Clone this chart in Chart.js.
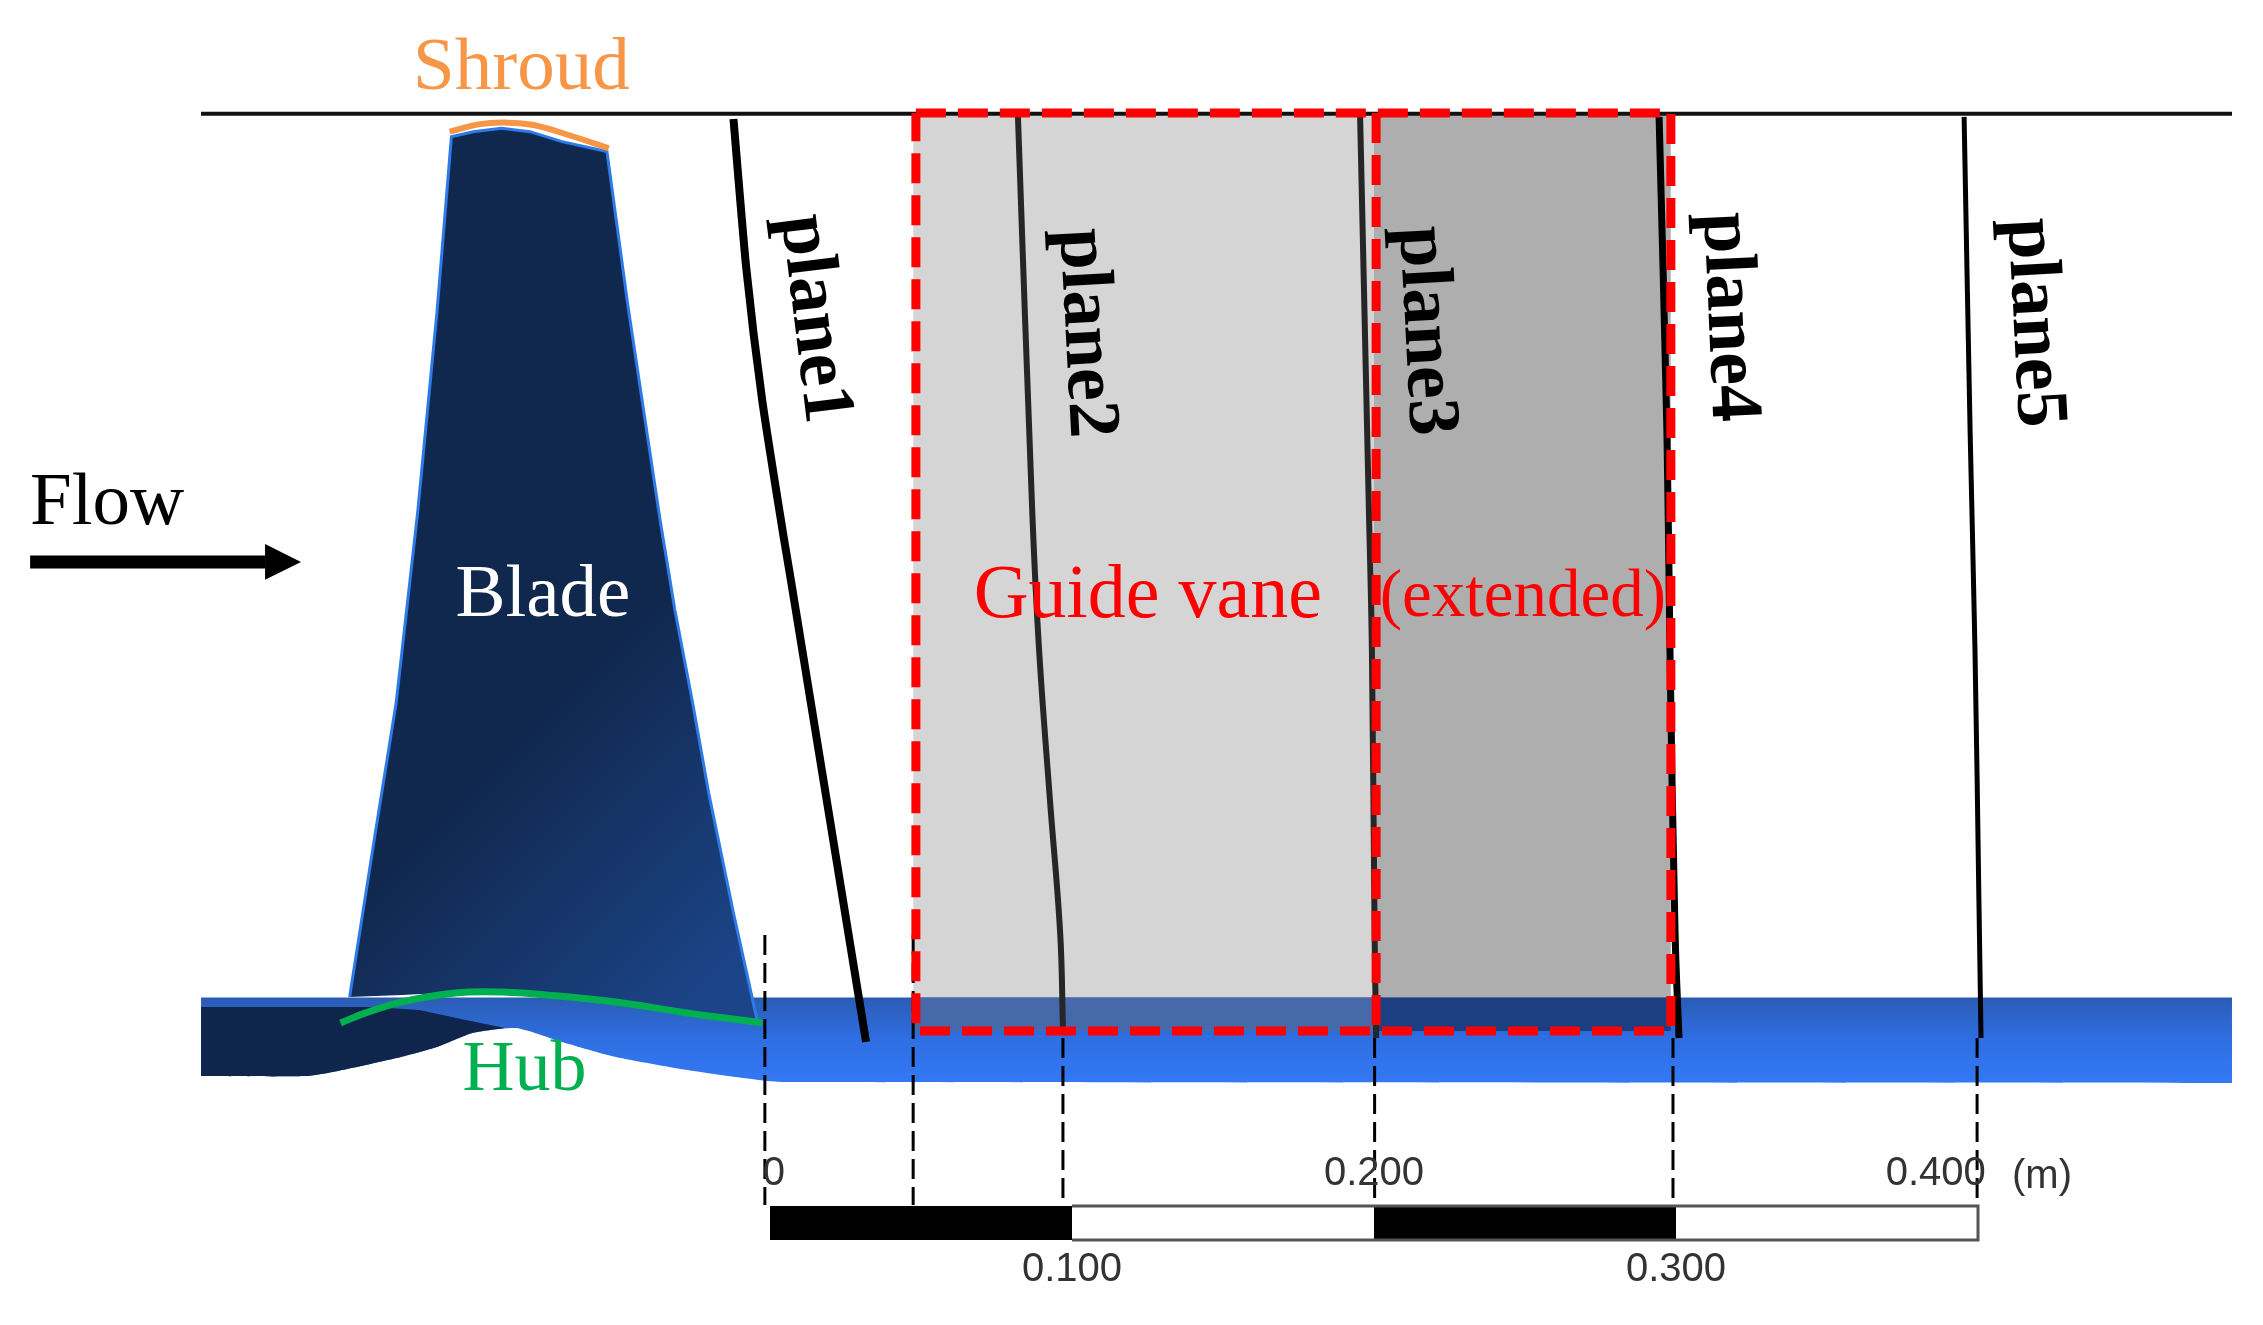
<!DOCTYPE html>
<html>
<head>
<meta charset="utf-8">
<style>
  html, body { margin: 0; padding: 0; background: #fff; }
  canvas { display: block; }
</style>
<script src="https://cdn.jsdelivr.net/npm/chart.js@4"></script>
</head>
<body>
<canvas id="chart" width="2263" height="1325"></canvas>
<script>
// all lengths in mm, measured off the scale bar; x = 0 at the bar start, y = 0 at the hub bottom
const scaleTicks = [0, 100, 200, 300, 400];
const scaleTickLabels = ['0', '0.100', '0.200', '0.300', '0.400'];
const scaleUnit = '(m)';
const planeNames = ['plane1', 'plane2', 'plane3', 'plane4', 'plane5'];

const plane1X = [-12.1, -7.9, -2.6, 4.3, 6.9, 31.8];
const plane1Y = [319.2, 270.2, 226.2, 182.1, 166.6, 13.6];
const plane2X = [82.1, 86.8, 89.1, 92.7, 96.1, 97];
const plane2Y = [319.9, 190.1, 143.4, 93.7, 49.3, 18.2];
const plane3X = [195.4, 198.3, 199.3, 200.2, 200.7];
const plane3Y = [319.9, 190.1, 143.4, 49.3, 14.9];
const plane4X = [294.4, 297, 298, 299.7, 301];
const plane4Y = [319.9, 215.2, 143.4, 49.3, 14.9];
const plane5X = [395.4, 397.4, 399, 400.3, 401];
const plane5Y = [319.9, 215.2, 143.4, 60.6, 14.9];

const bladeTopX = [-139.2, -130.9, -123.8, -116.7, -110.3, -105.5, -98.3, -88.9, -79.5, -68.9, -54, -47, -36.4, -31.5, -25.8, -20.3, -12.1, -4.3];
const bladeTopY = [28.5, 81.5, 125.8, 188.7, 255, 313.3, 315, 316.1, 315, 311.7, 308.4, 257, 186.4, 156.6, 126.8, 96, 56.3, 20.9];
const bladeRootX = [-139.2, -104.3, -88.9, -70, -51.1, -27.5, -4.3];
const bladeRootY = [28.5, 29.8, 30.1, 28.8, 26.8, 23.2, 20.9];

const hubCurveX = [-142.2, -133.9, -122.1, -104.3, -88.9, -70, -51.1, -27.5, -2.6];
const hubCurveY = [19.9, 23.2, 26.8, 29.8, 30.1, 28.8, 26.8, 23.2, 19.9];
const shroudCurveX = [-106.1, -96, -87.7, -78.3, -65.2, -53.4];
const shroudCurveY = [315, 317.5, 318, 317.2, 313.4, 309.5];

const wallTop = 320.9;
const hubTop = 28.3;
const vaneBottom = 17.2;
const flowStart = -188.4;
const flowEnd = 484.1;
const hubUnderX = [-188.4, -154, -143, -122.2, -110.3, -98.3, -84.1, -68.9, -51, -27.5, -3.8, 4.5, 484.1];
const hubUnderY = [2.3, 2.3, 4, 8.6, 11.9, 16.6, 18.2, 13.6, 8.6, 4.3, 1, 0.3, 0];
const hubDarkTopX = [-188.4, -131.5, -116.2, -100.7, -87.7];
const hubDarkTopY = [25.2, 25.2, 24.2, 20.9, 18.2];
const hubDarkUnderX = [-188.4, -154, -143, -122.2, -110.3, -98.3, -87.7];
const hubDarkUnderY = [2.3, 2.3, 4, 8.6, 11.9, 16.6, 18.2];

const vaneX = [47.4, 200];
const extendedX = [200, 298.3];
const frameX = [48.3, 298.3, 298.3, 48.3, 48.3];
const frameY = [321.2, 321.2, 17.2, 17.2, 321.2];
const frameMiddleX = [200.7, 200.7];
const frameMiddleY = [321.2, 17.2];

const guideX = [47.4, 97, 200.2, 299, 399.7];
const guideTopY = [49, 14.9, 14.9, 14.9, 14.9];
const zeroGuideX = -1.7;
const guideBottomY = -40.4;
const barTop = -40.7;
const barBottom = -52;

const px = (xs, ys) => xs.map((x, i) => ({ x: x, y: ys[i] }));

const datasets = [];
function add(xs, ys, style) {
  datasets.push(Object.assign({ data: px(xs, ys), borderWidth: 0, fill: false, borderColor: 'transparent' }, style));
}

function linearGrad(c, x0, y0, x1, y1, stops, fallback) {
  const scales = c.chart.scales;
  if (!c.chart.chartArea || !scales.x || !scales.y) return fallback;
  const a = scales.x.getPixelForValue(x0), b = scales.y.getPixelForValue(y0);
  const e = scales.x.getPixelForValue(x1), f = scales.y.getPixelForValue(y1);
  if (![a, b, e, f].every(Number.isFinite)) return fallback;
  const g = c.chart.ctx.createLinearGradient(a, b, e, f);
  stops.forEach((s, i) => g.addColorStop(i / (stops.length - 1), s));
  return g;
}

// grey vane sections
add(vaneX, [wallTop, wallTop], { fill: { value: hubTop }, backgroundColor: '#d5d5d5' });
add(extendedX, [wallTop, wallTop], { fill: { value: hubTop }, backgroundColor: '#aeaeae' });

// hub band
add([flowStart, flowEnd], [hubTop, hubTop], {
  fill: '+1',
  backgroundColor: c => linearGrad(c, 0, hubTop, 0, 0, ['#2a5cb4', '#2f6fe4', '#3378f4'], '#2f6fe4')
});
add(hubUnderX, hubUnderY, { tension: 0.2 });
add(hubDarkTopX, hubDarkTopY, { fill: '+1', backgroundColor: '#10254c' });
add(hubDarkUnderX, hubDarkUnderY, { tension: 0.2 });

// blade
add(bladeTopX, bladeTopY, {
  fill: '+1',
  borderWidth: 3,
  borderColor: '#2e7be8',
  backgroundColor: c => linearGrad(c, -96, 100.3, -23.2, 27.5, ['#10284e', '#1c4488'], '#10284e')
});
add(bladeRootX, bladeRootY, { tension: 0.3 });

// vane sections where they cross the hub band
add(vaneX, [hubTop, hubTop], { fill: { value: vaneBottom }, backgroundColor: '#4569a9' });
add(extendedX, [hubTop, hubTop], { fill: { value: vaneBottom }, backgroundColor: '#1b3f80' });

add([flowStart, flowEnd], [wallTop, wallTop], { borderWidth: 4, borderColor: '#111' });

add(hubCurveX, hubCurveY, { borderWidth: 7, borderColor: '#00b050', tension: 0.4 });
add(shroudCurveX, shroudCurveY, { borderWidth: 6, borderColor: '#f79646', tension: 0.4 });

// dashed leaders down to the scale bar
add([zeroGuideX, zeroGuideX], [49, guideBottomY], { borderWidth: 3, borderColor: '#000', borderDash: [20, 8] });
guideX.forEach((x, i) => {
  add([x, x], [guideTopY[i], guideBottomY], { borderWidth: 3, borderColor: '#000', borderDash: [20, 8] });
});

// measuring planes
add(plane1X, plane1Y, { borderWidth: 8, borderColor: '#000', tension: 0.2 });
add(plane2X, plane2Y, { borderWidth: 6, borderColor: '#262626', tension: 0.4 });
add(plane3X, plane3Y, { borderWidth: 6, borderColor: '#262626', tension: 0.4 });
add(plane4X, plane4Y, { borderWidth: 7, borderColor: '#000', tension: 0.4 });
add(plane5X, plane5Y, { borderWidth: 5, borderColor: '#000', tension: 0.4 });

// red dashed frame
add(frameMiddleX, frameMiddleY, { borderWidth: 9, borderColor: '#ff0000', borderDash: [30, 12] });
add(frameX, frameY, { borderWidth: 9, borderColor: '#ff0000', borderDash: [30, 12] });

// scale bar
add([scaleTicks[0], scaleTicks[1]], [barTop, barTop], { fill: { value: barBottom }, backgroundColor: '#000' });
add([scaleTicks[2], scaleTicks[3]], [barTop, barTop], { fill: { value: barBottom }, backgroundColor: '#000' });
add([scaleTicks[1], scaleTicks[4], scaleTicks[4], scaleTicks[1]], [barTop, barTop, barBottom, barBottom], { borderWidth: 3, borderColor: '#555' });

// flow arrow
add([-245, -167.2], [172.5, 172.5], { borderWidth: 13, borderColor: '#000' });
add([-167.2, -155.3], [178.5, 172.5], { fill: '+1', backgroundColor: '#000' });
add([-167.2, -155.3], [166.6, 172.5], {});

// earlier entries paint first
datasets.forEach((d, i) => { d.order = datasets.length - i; });

const serif = '"Liberation Serif", serif';
const sans = '"Liberation Sans", sans-serif';
const annotations = [
  { text: 'Shroud', x: -82.3, y: 335.7, font: '75px ' + serif, color: '#f79646' },
  { text: 'Flow', x: -219.5, y: 191.5, font: '75px ' + serif, color: '#000' },
  { text: 'Blade', x: -75.2, y: 161.1, font: '75px ' + serif, color: '#fff' },
  { text: 'Hub', x: -81.3, y: 4.1, font: '72px ' + serif, color: '#00b050' },
  { text: 'Guide vane', x: 125.1, y: 160.9, font: '76px ' + serif, color: '#ff0000' },
  { text: '(extended)', x: 249.3, y: 160.4, font: '67px ' + serif, color: '#ff0000' },
  { text: scaleUnit, x: 421.2, y: -31.1, font: '40px ' + sans, color: '#333' }
];
const planeLabelX = [14.4, 104.3, 216.8, 317.2, 418.2];
const planeLabelY = [253, 248.3, 249, 253.6, 251.7];
const planeLabelAngle = [83, 87, 87, 87.5, 87];
const tickLabelX = [1.3, 100, 200, 300, 386];
const tickLabelY = [-30.1, -61.9, -30.1, -61.9, -30.1];

const textPlugin = {
  id: 'diagramText',
  afterDatasetsDraw(chart) {
    const ctx = chart.ctx;
    const { x, y } = chart.scales;
    ctx.save();
    ctx.textAlign = 'center';
    ctx.textBaseline = 'middle';
    annotations.forEach(a => {
      ctx.font = a.font;
      ctx.fillStyle = a.color;
      ctx.fillText(a.text, x.getPixelForValue(a.x), y.getPixelForValue(a.y));
    });
    scaleTickLabels.forEach((label, i) => {
      ctx.font = '40px ' + sans;
      ctx.fillStyle = '#333';
      ctx.fillText(label, x.getPixelForValue(tickLabelX[i]), y.getPixelForValue(tickLabelY[i]));
    });
    planeNames.forEach((name, i) => {
      ctx.save();
      ctx.translate(x.getPixelForValue(planeLabelX[i]), y.getPixelForValue(planeLabelY[i]));
      ctx.rotate(planeLabelAngle[i] * Math.PI / 180);
      ctx.font = 'bold 74px ' + serif;
      ctx.fillStyle = '#000';
      ctx.fillText(name, 0, 0);
      ctx.restore();
    });
    ctx.restore();
  }
};

const chart = new Chart(document.getElementById('chart'), {
  type: 'line',
  data: { datasets: datasets },
  plugins: [textPlugin],
  options: {
    responsive: false,
    devicePixelRatio: 1,
    animation: false,
    events: [],
    layout: { padding: 0, autoPadding: false },
    elements: { point: { radius: 0 } },
    plugins: { legend: { display: false }, tooltip: { enabled: false } },
    scales: {
      x: { type: 'linear', display: false, min: -254.97, max: 494.37 },
      y: { type: 'linear', display: false, min: -80.13, max: 358.6 }
    }
  }
});
chart.update();
</script>
</body>
</html>
